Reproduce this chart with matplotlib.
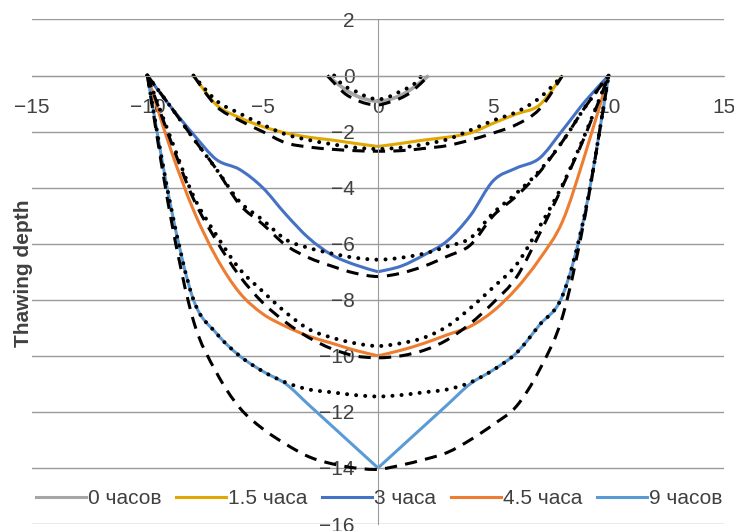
import matplotlib
matplotlib.use("Agg")
import matplotlib.pyplot as plt
from matplotlib.path import Path
from matplotlib.patches import PathPatch
from matplotlib.lines import Line2D

plt.rcParams['font.family'] = ['Liberation Sans', 'DejaVu Sans']

# x positions (distance from centre)
x_full = [-10, -9, -8, -7, -6, -5, -4, -3, -2, -1, 0, 1, 2, 3, 4, 5, 6, 7, 8, 9, 10]
x_15 = [-8, -7, -6, -5, -4, -3, -2, -1, 0, 1, 2, 3, 4, 5, 6, 7, 8]
x_0 = [-2.2, -1.5, -1, -0.5, 0, 0.5, 1, 1.5, 2.2]
x_0_dot = [-1.9, -1.5, -1, -0.5, 0, 0.5, 1, 1.5, 1.9]

# measured curves (coloured)
y_0h = [0, -0.45, -0.7, -0.85, -0.92, -0.85, -0.7, -0.45, 0]
y_15h = [0, -1.05, -1.5, -1.82, -2.05, -2.2, -2.3, -2.42, -2.53,
         -2.42, -2.3, -2.2, -2.05, -1.7, -1.37, -1.05, 0]
y_3h = [0, -1.1, -2.1, -3.0, -3.35, -4.0, -4.95, -5.8, -6.4, -6.75, -7.0,
        -6.8, -6.4, -5.9, -5.0, -3.75, -3.3, -2.95, -1.95, -0.9, 0]
y_45h = [0, -2.6, -4.8, -6.5, -7.75, -8.5, -8.95, -9.3, -9.55, -9.8, -10.0,
         -9.8, -9.55, -9.25, -8.95, -8.4, -7.6, -6.55, -5.2, -2.75, 0]
y_9h = [0, -4.6, -8.0, -9.2, -10.0, -10.55, -11.0, -11.75, -12.5, -13.25, -14.0,
        -13.25, -12.5, -11.75, -11.0, -10.5, -9.9, -8.9, -7.85, -4.8, 0]

# model curves: dotted
d_0h = [0, -0.35, -0.55, -0.75, -0.85, -0.75, -0.55, -0.35, 0]
d_15h = [0, -0.9, -1.35, -1.75, -2.1, -2.3, -2.45, -2.57, -2.62,
         -2.57, -2.45, -2.28, -1.95, -1.6, -1.3, -0.8, 0]
d_3h = [0, -1.1, -2.25, -3.35, -4.5, -5.15, -5.85, -6.15, -6.35, -6.5, -6.57,
        -6.5, -6.35, -6.1, -5.8, -4.9, -4.2, -3.4, -2.35, -1.1, 0]
d_45h = [0, -2.2, -4.3, -5.7, -6.9, -7.7, -8.45, -9.05, -9.35, -9.55, -9.65,
         -9.55, -9.35, -8.95, -8.3, -7.55, -6.75, -5.4, -3.9, -2.05, 0]
d_9h = [0, -4.6, -8.0, -9.2, -10.0, -10.55, -10.95, -11.2, -11.3, -11.4, -11.45,
        -11.4, -11.3, -11.2, -10.95, -10.5, -9.9, -8.9, -7.85, -4.8, 0]

# model curves: dashed
s_0h = [0, -0.6, -0.85, -1.0, -1.05, -0.95, -0.8, -0.55, 0]
s_15h = [0, -1.1, -1.6, -2.0, -2.4, -2.55, -2.63, -2.68, -2.7,
         -2.68, -2.6, -2.5, -2.3, -2.05, -1.75, -1.2, 0]
s_3h = [0, -1.1, -2.25, -3.35, -4.6, -5.3, -6.05, -6.5, -6.8, -7.05, -7.17,
        -7.05, -6.8, -6.45, -6.05, -5.0, -4.3, -3.45, -2.35, -1.1, 0]
s_45h = [0, -2.3, -4.4, -5.9, -7.15, -8.1, -8.8, -9.35, -9.75, -10.0, -10.07,
         -10.0, -9.8, -9.43, -8.85, -8.1, -7.2, -5.65, -3.95, -2.1, 0]
s_9h = [0, -5.0, -8.75, -10.6, -11.85, -12.6, -13.15, -13.6, -13.85, -14.0, -14.05,
        -13.9, -13.7, -13.45, -13.0, -12.45, -11.8, -10.5, -8.6, -4.9, 0]

labels = ['0 часов', '1.5 часа', '3 часа', '4.5 часа', '9 часов']
colors = ['#A5A5A5', '#E0A800', '#4472C4', '#ED7D31', '#5B9BD5']


def smooth_path(xs, ys):
    # Excel-like smoothed line: cubic Bezier through the points
    pts = list(zip(xs, ys))
    verts = [pts[0]]
    codes = [Path.MOVETO]
    n = len(pts)
    for i in range(n - 1):
        p0 = pts[i - 1] if i > 0 else pts[i]
        p1, p2 = pts[i], pts[i + 1]
        p3 = pts[i + 2] if i + 2 < n else pts[i + 1]
        c1 = (p1[0] + (p2[0] - p0[0]) / 6, p1[1] + (p2[1] - p0[1]) / 6)
        c2 = (p2[0] - (p3[0] - p1[0]) / 6, p2[1] - (p3[1] - p1[1]) / 6)
        verts += [c1, c2, p2]
        codes += [Path.CURVE4] * 3
    return Path(verts, codes)


def draw(ax, xs, ys, split=False, **kw):
    if split:
        m = xs.index(0)
        parts = [(xs[:m + 1], ys[:m + 1]), (xs[m:], ys[m:])]
    else:
        parts = [(xs, ys)]
    for px, py in parts:
        ax.add_patch(PathPatch(smooth_path(px, py), fill=False, **kw))


fig = plt.figure(figsize=(7.34, 5.31), dpi=100)
ax = fig.add_axes([32 / 734, 1 - 524 / 531, 692 / 734, 504.5 / 531])

lw = 2.2
draw(ax, x_0, y_0h, edgecolor=colors[0], lw=lw + 0.4)
draw(ax, x_15, y_15h, split=True, edgecolor=colors[1], lw=lw)
draw(ax, x_full, y_3h, split=True, edgecolor=colors[2], lw=lw)
draw(ax, x_full, y_45h, split=True, edgecolor=colors[3], lw=lw)
draw(ax, x_full, y_9h, split=True, edgecolor=colors[4], lw=lw)

dot = dict(edgecolor='black', lw=2.9, linestyle=(0, (0.01, 2.25)),
           capstyle='round')
dash = dict(edgecolor='black', lw=2.2, linestyle=(0, (4, 2.7)))

draw(ax, x_0_dot, d_0h, **dot)
draw(ax, x_0, s_0h, **dash)
draw(ax, x_15, d_15h, **dot)
draw(ax, x_15, s_15h, **dash)
draw(ax, x_full, d_3h, **dot)
draw(ax, x_full, s_3h, **dash)
draw(ax, x_full, d_45h, **dot)
draw(ax, x_full, s_45h, **dash)
draw(ax, x_full, d_9h, **dot)
draw(ax, x_full, s_9h, **dash)

ax.set_xlim(-15, 15)
ax.set_ylim(-16, 2)
ax.set_xticks(range(-15, 16, 5))
ax.set_yticks(range(-16, 3, 2))

grid_c = '#9A9A9A'
ax.yaxis.grid(True, color=grid_c, lw=1)
ax.set_axisbelow(True)
for s in ['top', 'right']:
    ax.spines[s].set_visible(False)
ax.spines['left'].set_position(('data', 0))
ax.spines['bottom'].set_position(('data', 0))
ax.spines['left'].set_color(grid_c)
ax.spines['bottom'].set_color(grid_c)
ax.tick_params(axis='x', length=0, pad=16, labelsize=15, labelcolor='#404040')
ax.tick_params(axis='y', length=0, pad=17, labelsize=15, labelcolor='#404040')

fig.text(24 / 734, 1 - 273 / 531, 'Thawing depth', rotation=90, fontsize=15,
         fontweight='bold', color='#404040', ha='center', va='center')

handles = [Line2D([], [], color=c, lw=lw) for c in colors]
ax.legend(handles, labels, loc='center', bbox_to_anchor=(379 / 734, 1 - 499 / 531),
          bbox_transform=fig.transFigure, ncol=5, frameon=False, fontsize=15,
          handlelength=2.4, handletextpad=0.1, columnspacing=0.7,
          labelcolor='#404040')

fig.savefig('out.png', dpi=100)
